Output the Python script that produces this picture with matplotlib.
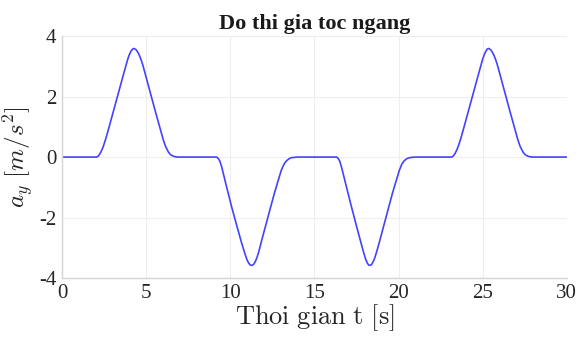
import matplotlib
matplotlib.use('Agg')
import matplotlib.pyplot as plt

# Values (time in s, lateral acceleration in m/s^2)
t_pulse1 = [0.00, 2.06, 2.15, 2.25, 2.35, 2.45, 2.60, 2.75, 3.05, 3.35, 3.64, 3.90, 4.00, 4.10, 4.20, 4.28,
            4.40, 4.50, 4.60, 4.70, 4.80, 5.03, 5.53, 6.02, 6.15, 6.32, 6.45, 6.61, 6.75, 6.90]
a_pulse1 = [0.00, 0.00, 0.03, 0.10, 0.21, 0.34, 0.60, 0.89, 1.50, 2.11, 2.70, 3.22, 3.38, 3.50, 3.57, 3.59,
            3.55, 3.47, 3.36, 3.22, 3.05, 2.58, 1.55, 0.57, 0.36, 0.17, 0.08, 0.03, 0.01, 0.00]

t_pulse2 = [9.19, 9.28, 9.38, 9.49, 9.78, 10.08, 10.38, 10.68, 10.90, 11.00, 11.10, 11.20, 11.29,
            11.40, 11.50, 11.60, 11.70, 11.84, 12.24, 12.64, 13.03, 13.18, 13.33, 13.48, 13.62, 13.80, 14.00]
a_pulse2 = [0.00, -0.04, -0.13, -0.32, -0.98, -1.64, -2.25, -2.85, -3.24, -3.40, -3.51, -3.57, -3.58,
            -3.54, -3.44, -3.30, -3.12, -2.81, -1.98, -1.16, -0.44, -0.25, -0.13, -0.06, -0.02, -0.01, 0.00]

t_pulse3 = [16.32, 16.41, 16.51, 16.62, 16.92, 17.21, 17.51, 17.81, 17.95, 18.05, 18.15, 18.23, 18.30,
            18.40, 18.50, 18.60, 18.70, 18.85, 19.25, 19.65, 20.04, 20.19, 20.34, 20.50, 20.65, 20.80, 20.95]
a_pulse3 = [0.00, -0.04, -0.14, -0.35, -1.02, -1.66, -2.30, -2.92, -3.20, -3.38, -3.51, -3.57, -3.58,
            -3.55, -3.45, -3.31, -3.13, -2.83, -2.00, -1.17, -0.45, -0.24, -0.12, -0.05, -0.02, -0.01, 0.00]

t_pulse4 = [23.15, 23.24, 23.34, 23.44, 23.54, 23.69, 23.84, 24.14, 24.44, 24.73, 24.99, 25.09, 25.19, 25.27, 25.35,
            25.47, 25.57, 25.67, 25.77, 25.87, 26.10, 26.60, 27.09, 27.22, 27.39, 27.52, 27.68, 27.82, 27.97, 30.00]
a_pulse4 = [0.00, 0.03, 0.10, 0.21, 0.34, 0.60, 0.89, 1.50, 2.11, 2.70, 3.22, 3.38, 3.50, 3.57, 3.59,
            3.55, 3.47, 3.36, 3.22, 3.05, 2.58, 1.55, 0.57, 0.36, 0.17, 0.08, 0.03, 0.01, 0.00, 0.00]

t = t_pulse1 + t_pulse2 + t_pulse3 + t_pulse4
a_y = a_pulse1 + a_pulse2 + a_pulse3 + a_pulse4

x_ticks = [0, 5, 10, 15, 20, 25, 30]
y_ticks = [-4, -2, 0, 2, 4]

plt.rcParams['font.family'] = ['Liberation Serif', 'DejaVu Serif']
plt.rcParams['mathtext.fontset'] = 'cm'
plt.rcParams['axes.unicode_minus'] = False

fig = plt.figure(figsize=(5.79, 3.40), dpi=100)
ax = fig.add_axes([0.107, 0.182, 0.872, 0.712])

ax.plot(t, a_y, color='#4343ff', linewidth=1.2)

ax.set_xlim(0, 30)
ax.set_ylim(-4, 4)
ax.set_xticks(x_ticks)
ax.set_yticks(y_ticks)
ax.grid(True, color='#eeeeee', linewidth=0.8)
ax.set_axisbelow(True)

for side in ['top', 'right']:
    ax.spines[side].set_visible(False)
for side in ['left', 'bottom']:
    ax.spines[side].set_color('#d4d4d4')
    ax.spines[side].set_linewidth(1.0)

ax.tick_params(axis='both', length=0, labelsize=15, colors='#262626', pad=4)

ax.set_title('Do thi gia toc ngang', fontsize=16, fontweight='bold', color='#1a1a1a', pad=5)
ax.set_xlabel(r'$\mathrm{Thoi\ gian\ t\ [s]}$', fontsize=19, color='#262626', labelpad=0)
ax.set_ylabel(r'$a_y\ [m/s^2]$', fontsize=18, color='#262626', labelpad=2)

fig.savefig('out.png', dpi=100)
